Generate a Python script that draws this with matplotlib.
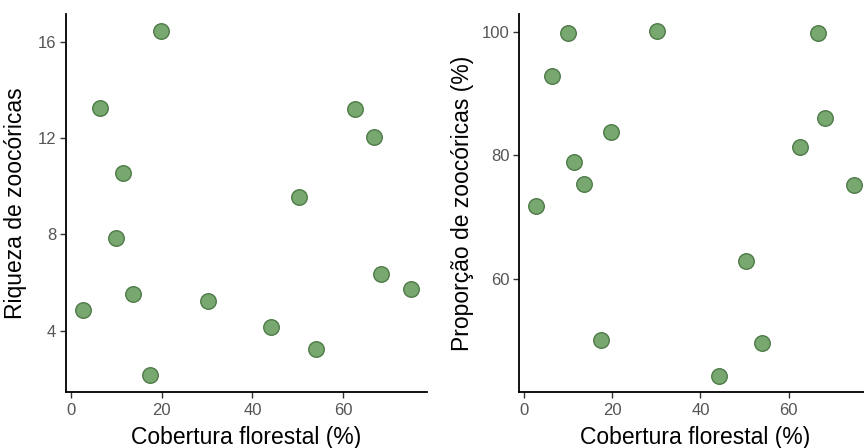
import matplotlib
matplotlib.use('Agg')
import matplotlib.pyplot as plt

# forest cover (%) per site, shared by both panels
cobertura = [2.6, 6.4, 10.0, 11.4, 13.6, 17.4, 19.8, 30.2, 44.2, 50.3, 54.0, 62.6, 66.8, 68.3, 74.9]
# richness of zoochorous species
riqueza = [4.85, 13.25, 7.84, 10.55, 5.54, 2.14, 16.43, 5.25, 4.16, 9.56, 3.22, 13.22, 12.05, 6.36, 5.72]
# proportion of zoochorous species (%)
proporcao = [71.8, 92.9, 99.8, 78.9, 75.3, 50.0, 83.8, 100.1, 44.2, 62.8, 49.5, 81.4, 99.8, 86.1, 75.2]

plt.rcParams['font.family'] = ['Liberation Sans', 'DejaVu Sans']

fig = plt.figure(figsize=(8.64, 4.48), dpi=100)
ax1 = fig.add_axes([0.0764, 0.125, 0.4178, 0.84375])
ax2 = fig.add_axes([0.601, 0.125, 0.406, 0.84375])

def style(ax):
    for s in ['top', 'right']:
        ax.spines[s].set_visible(False)
    for s in ['left', 'bottom']:
        ax.spines[s].set_linewidth(1.3)
        ax.spines[s].set_color('black')
    ax.tick_params(length=4, width=1, color='#333333', labelcolor='#555555', labelsize=12)
    ax.tick_params(axis='x', pad=4)
    ax.tick_params(axis='y', pad=3)
    ax.set_xlabel('Cobertura florestal (%)', fontsize=16.5, color='black', labelpad=6)

ax1.scatter(cobertura, riqueza, s=125, c='#78a870', edgecolors='#4e7a48', linewidths=1, zorder=3)
ax1.set_xlim(-1.1, 78.5)
ax1.set_ylim(1.45, 17.15)
ax1.set_xticks([0, 20, 40, 60])
ax1.set_yticks([4, 8, 12, 16])
ax1.set_ylabel('Riqueza de zoocóricas', fontsize=16.5)
ax1.yaxis.set_label_coords(-0.108, 0.5)
style(ax1)

ax2.scatter(cobertura, proporcao, s=125, c='#78a870', edgecolors='#4e7a48', linewidths=1, zorder=3)
ax2.set_xlim(-1.1, 78.5)
ax2.set_ylim(41.6, 102.9)
ax2.set_xticks([0, 20, 40, 60])
ax2.set_yticks([60, 80, 100])
ax2.set_ylabel('Proporção de zoocóricas (%)', fontsize=16.5)
ax2.yaxis.set_label_coords(-0.129, 0.5)
style(ax2)

fig.savefig('out.png', dpi=100)
